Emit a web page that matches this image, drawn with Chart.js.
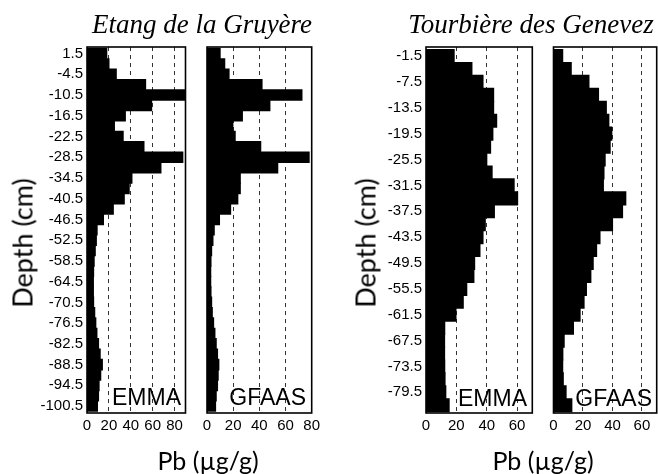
<!DOCTYPE html>
<html>
<head>
<meta charset="utf-8">
<title>Pb depth profiles</title>
<script src="https://cdn.jsdelivr.net/npm/chart.js@4.4.1/dist/chart.umd.min.js"></script>
<style>
  html, body { margin: 0; padding: 0; background: #fff; overflow: hidden; }
  #page { position: relative; width: 658px; height: 474px; }
  canvas { position: absolute; left: 0; top: 0; }
  .lbl { position: absolute; white-space: nowrap; color: #000; line-height: 1; }
  .site { font-family: 'Liberation Serif', 'Times New Roman', serif; font-style: italic; font-size: 27px; transform: translate(-50%, -50%); }
  .axis { font-family: Lato, 'Open Sans', sans-serif; font-size: 27px; }
  .depth { transform: translate(-50%, -50%) rotate(-90deg); }
  .pb { transform: translate(-50%, -50%); font-size: 25px; }
  .method { font-family: 'Liberation Sans', Arial, sans-serif; font-size: 23px; transform: translate(-100%, -50%); }
</style>
</head>
<body>
<div id="page">
  <canvas id="gruyereEmmaChart" width="658" height="474"></canvas>
  <canvas id="gruyereGfaasChart" width="658" height="474"></canvas>
  <canvas id="genevezEmmaChart" width="658" height="474"></canvas>
  <canvas id="genevezGfaasChart" width="658" height="474"></canvas>

  <div class="lbl site" style="left:202px; top:24px;">Etang de la Gruyère</div>
  <div class="lbl site" style="left:531px; top:24px;">Tourbière des Genevez</div>

  <div class="lbl axis depth" style="left:22px; top:243px;">Depth (cm)</div>
  <div class="lbl axis depth" style="left:365px; top:243px;">Depth (cm)</div>

  <div class="lbl axis pb" style="left:208px; top:460px;">Pb (µg/g)</div>
  <div class="lbl axis pb" style="left:543px; top:460px;">Pb (µg/g)</div>

  <div class="lbl method" style="left:181px; top:397px;">EMMA</div>
  <div class="lbl method" style="left:306px; top:397px;">GFAAS</div>
  <div class="lbl method" style="left:527px; top:398px;">EMMA</div>
  <div class="lbl method" style="left:652px; top:398px;">GFAAS</div>
</div>

<script>
// Etang de la Gruyère core - 3 cm slices
const gruyereDepths = [1.5, -1.5, -4.5, -7.5, -10.5, -13.5, -16.5, -19.5, -22.5, -25.5,
  -28.5, -31.5, -34.5, -37.5, -40.5, -43.5, -46.5, -49.5, -52.5, -55.5,
  -58.5, -61.5, -64.5, -67.5, -70.5, -73.5, -76.5, -79.5, -82.5, -85.5,
  -88.5, -91.5, -94.5, -97.5, -100.5];
const gruyereEmma = [18, 20, 26.7, 53.5, 89, 59, 35, 25, 33, 52,
  87.5, 67.5, 41, 38.5, 34, 24, 15, 9.2, 8.5, 7.5,
  6.5, 6, 5.8, 5.8, 6, 7, 8, 9, 10.5, 12,
  14, 12.5, 11, 10.5, 9.5];
const gruyereGfaas = [10, 13.5, 16.8, 42, 72.5, 48, 27, 19.7, 21.5, 41,
  78, 54, 25.4, 25.4, 23.5, 18, 9.5, 5.5, 4.5, 3.5,
  3, 2.8, 2.8, 3, 3.5, 4, 5, 6, 7, 8,
  9, 8.5, 8, 7, 6.5];
const gruyereDepthTicks = [1.5, -4.5, -10.5, -16.5, -22.5, -28.5, -34.5, -40.5, -46.5,
  -52.5, -58.5, -64.5, -70.5, -76.5, -82.5, -88.5, -94.5, -100.5];

// Tourbière des Genevez core - 3 cm slices
const genevezDepths = [-1.5, -4.5, -7.5, -10.5, -13.5, -16.5, -19.5, -22.5, -25.5, -28.5,
  -31.5, -34.5, -37.5, -40.5, -43.5, -46.5, -49.5, -52.5, -55.5, -58.5,
  -61.5, -64.5, -67.5, -70.5, -73.5, -76.5, -79.5, -82.5];
const genevezEmma = [18.5, 30.2, 37.5, 44.5, 44.5, 46.5, 44, 42.5, 40, 43.5,
  58, 60.3, 45, 39, 37.5, 35.5, 32, 31.5, 26.8, 24.5,
  19.7, 12.3, 12.2, 12.2, 12.3, 12.5, 13, 15.2];
const genevezGfaas = [6.2, 12, 24, 30.5, 35.8, 37.5, 39.5, 38.4, 35, 34.2,
  33.8, 49, 46.8, 40, 31.5, 29.2, 26.9, 25.3, 22.3, 20.7,
  18, 13.5, 7.2, 6.3, 6.2, 6.6, 8.5, 12.4];
const genevezDepthTicks = [-1.5, -7.5, -13.5, -19.5, -25.5, -31.5, -37.5,
  -43.5, -49.5, -55.5, -61.5, -67.5, -73.5, -79.5];

// Pb axis ticks (µg/g)
const pbTicks80 = [0, 20, 40, 60, 80];
const pbTicks60 = [0, 20, 40, 60];

// Black frame round each panel
const panelFrame = {
    id: 'panelFrame',
    afterDatasetsDraw(chart) {
        const { ctx, chartArea: a } = chart;
        ctx.save();
        ctx.strokeStyle = '#000';
        ctx.lineWidth = 1.6;
        ctx.strokeRect(a.left, a.top, a.right - a.left, a.bottom - a.top);
        ctx.restore();
    }
};

const tickFont = { family: "'Liberation Sans', Arial, sans-serif", size: 15 };

function makePanel(id, depths, values, cfg) {
    const yWidth = cfg.showDepth ? 50 : 0;
    const xHeight = 24;
    const ctx = document.getElementById(id).getContext('2d');

    return new Chart(ctx, {
        type: 'bar',
        data: {
            datasets: [{
                data: values.map((v, i) => ({ x: v, y: depths[i] })),
                backgroundColor: '#000',
                borderWidth: 0,
                barPercentage: 1,
                categoryPercentage: 1,
                inflateAmount: 0.6
            }]
        },
        options: {
            indexAxis: 'y',
            responsive: false,
            animation: false,
            layout: {
                padding: {
                    left: cfg.left - yWidth,
                    right: 658 - cfg.right,
                    top: 47,
                    bottom: 474 - 413 - xHeight
                }
            },
            plugins: {
                legend: { display: false },
                tooltip: { enabled: false }
            },
            scales: {
                x: {
                    type: 'linear',
                    min: 0,
                    max: cfg.max,
                    afterBuildTicks: s => { s.ticks = cfg.pbTicks.map(v => ({ value: v })); },
                    afterFit: s => { s.height = xHeight; },
                    grid: {
                        drawTicks: false,
                        lineWidth: 1,
                        color: c => (c.tick && c.tick.value > 0 && c.tick.value < cfg.max) ? '#333' : 'rgba(0,0,0,0)'
                    },
                    border: { display: false, dash: [4, 4] },
                    ticks: { padding: 4, color: '#000', font: tickFont, maxRotation: 0, autoSkip: false }
                },
                y: {
                    type: 'linear',
                    min: cfg.yMin,
                    max: cfg.yMax,
                    offset: false,
                    display: cfg.showDepth,
                    afterBuildTicks: s => { s.ticks = cfg.depthTicks.map(v => ({ value: v })); },
                    afterFit: s => { s.width = yWidth; },
                    grid: { display: false, drawTicks: false, offset: false },
                    border: { display: false },
                    ticks: {
                        padding: 4,
                        autoSkip: false,
                        color: '#000',
                        font: tickFont,
                        callback: v => v.toFixed(1)
                    }
                }
            }
        },
        plugins: [panelFrame]
    });
}

makePanel('gruyereEmmaChart', gruyereDepths, gruyereEmma, {
    left: 87, right: 185.5, max: 90, pbTicks: pbTicks80,
    yMin: -102.5, yMax: 3.4, depthTicks: gruyereDepthTicks, showDepth: true
});
makePanel('gruyereGfaasChart', gruyereDepths, gruyereGfaas, {
    left: 207, right: 311.7, max: 80, pbTicks: pbTicks80,
    yMin: -102.5, yMax: 3.4, depthTicks: gruyereDepthTicks, showDepth: false
});
makePanel('genevezEmmaChart', genevezDepths, genevezEmma, {
    left: 426, right: 532.3, max: 70, pbTicks: pbTicks60,
    yMin: -84.3, yMax: 0.6, depthTicks: genevezDepthTicks, showDepth: true
});
makePanel('genevezGfaasChart', genevezDepths, genevezGfaas, {
    left: 553.5, right: 656.7, max: 70, pbTicks: pbTicks60,
    yMin: -84.3, yMax: 0.6, depthTicks: genevezDepthTicks, showDepth: false
});
</script>
</body>
</html>
